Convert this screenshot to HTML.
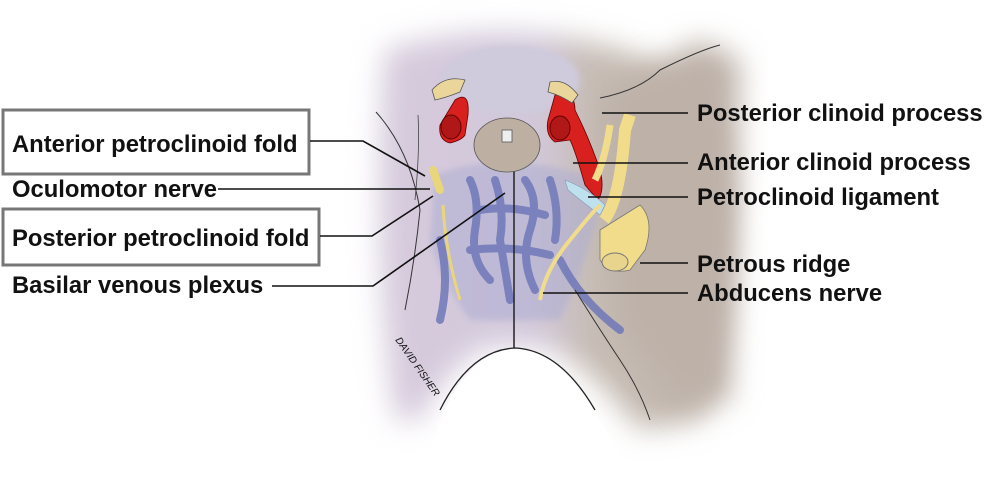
<!DOCTYPE html>
<html><head><meta charset="utf-8"><style>
html,body{margin:0;padding:0;background:#fff}
svg{display:block}
text{font-family:"Liberation Sans",Arial,sans-serif;font-weight:bold;font-size:23.8px;fill:#111}
</style></head><body>
<svg width="986" height="489" viewBox="0 0 986 489" xmlns="http://www.w3.org/2000/svg">
<defs>
<filter id="blur" x="-20%" y="-20%" width="140%" height="140%"><feGaussianBlur stdDeviation="14"/></filter>
<filter id="b2"><feGaussianBlur stdDeviation="3"/></filter>
<linearGradient id="lr" x1="0" x2="1" y1="0" y2="0">
<stop offset="0" stop-color="#d6cadc"/><stop offset="0.45" stop-color="#d2c8da"/><stop offset="0.6" stop-color="#c6bcb4"/><stop offset="1" stop-color="#bfb3aa"/>
</linearGradient>
</defs>
<path d="M385 50 Q520 10 650 60 Q720 80 730 200 Q730 330 700 420 L640 430 Q560 330 515 348 Q470 330 420 420 L395 420 Q370 250 385 50Z" fill="url(#lr)" filter="url(#blur)"/>
<path d="M600 100 Q650 70 700 40 L740 60 L730 400 L690 410 Q650 360 620 330Z" fill="#bdb1a8" filter="url(#blur)"/>
<ellipse cx="510" cy="80" rx="70" ry="35" fill="#cfcadc" filter="url(#b2)"/>
<path d="M435 175 Q500 150 585 175 L600 210 Q580 280 560 320 L470 320 Q440 280 430 240Z" fill="#aeaed2" opacity="0.55" filter="url(#b2)"/>
<g stroke="#6f78b8" stroke-width="8" fill="none" opacity="0.85" stroke-linecap="round">
<path d="M470 180 Q480 200 475 230 Q470 260 490 280"/>
<path d="M495 180 Q505 210 500 240 Q505 270 510 300"/>
<path d="M525 180 Q540 200 530 230 Q520 260 535 290"/>
<path d="M550 180 Q560 210 555 240"/>
<path d="M480 210 Q510 205 545 215"/>
<path d="M470 250 Q510 245 550 255"/>
<path d="M440 240 Q450 280 440 320"/>
<path d="M560 260 Q580 300 620 330"/>
</g>
<line x1="514" y1="170" x2="514" y2="348" stroke="#222" stroke-width="1.5"/>
<path d="M440 420 Q470 350 515 348 Q560 350 600 420 L640 489 L420 489Z" fill="#fff"/>
<path d="M440 410 Q470 350 515 348 Q560 350 595 410" fill="none" stroke="#222" stroke-width="1.3"/>
<path d="M600 98 Q640 90 660 70 Q700 50 720 45" fill="none" stroke="#333" stroke-width="1"/>
<path d="M575 290 Q600 330 620 360 Q640 390 650 420" fill="none" stroke="#333" stroke-width="1"/>
<path d="M376 112 Q410 150 420 210 Q415 260 405 310" fill="none" stroke="#333" stroke-width="1"/>
<path d="M418 115 Q420 150 415 200" fill="none" stroke="#444" stroke-width="0.8"/>
<ellipse cx="507" cy="145" rx="33" ry="27" fill="#bdb0a3" stroke="#555" stroke-width="0.8"/>
<rect x="502" y="130" width="10" height="12" fill="#eee" stroke="#555" stroke-width="0.8"/>
<path d="M455 100 Q470 90 468 115 L465 135 Q462 140 450 143 Q438 140 440 125Z" fill="#d8201f" stroke="#600" stroke-width="0.8"/>
<ellipse cx="451" cy="127" rx="10" ry="12" fill="#b01818" stroke="#600"/>
<path d="M555 95 Q575 90 575 110 Q590 140 600 170 Q605 190 598 200 L585 185 Q575 150 570 140 L555 142 Q545 135 548 120Z" fill="#d8201f" stroke="#600" stroke-width="0.8"/>
<ellipse cx="560" cy="128" rx="10" ry="12" fill="#b01818" stroke="#600"/>
<path d="M432 90 Q445 75 465 80 L460 92 Q445 98 435 100Z" fill="#ead69a" stroke="#555" stroke-width="0.8"/>
<path d="M550 82 Q565 78 578 95 L572 103 Q560 95 548 92Z" fill="#ead69a" stroke="#555" stroke-width="0.8"/>
<path d="M433 170 L440 190" stroke="#e9d67a" stroke-width="8" stroke-linecap="round"/>
<path d="M604 220 Q620 200 625 130 L630 115" stroke="#f1dc8c" stroke-width="12" fill="none"/>
<path d="M610 125 Q605 160 595 180" stroke="#f1dc8c" stroke-width="7" fill="none"/>
<path d="M600 230 L640 205 Q655 220 645 250 L630 270 Q610 275 600 260Z" fill="#f1dc8c" stroke="#777" stroke-width="0.8"/>
<ellipse cx="615" cy="262" rx="13" ry="9" fill="#e8d48c" stroke="#777"/>
<path d="M565 180 Q590 190 605 205 L600 215 Q580 200 568 190Z" fill="#bfe1ee" stroke="#89b" stroke-width="0.6"/>
<path d="M540 300 Q545 270 570 240 Q590 215 600 205" stroke="#f1dc8c" stroke-width="4" fill="none"/>
<path d="M443 205 Q445 250 460 300" stroke="#e9d67a" stroke-width="3" fill="none"/>
<rect x="3" y="110" width="306" height="64" fill="none" stroke="#777" stroke-width="3"/>
<rect x="3" y="209" width="316" height="56" fill="none" stroke="#777" stroke-width="3"/>
<text x="12" y="152">Anterior petroclinoid fold</text>
<text x="12" y="197">Oculomotor nerve</text>
<text x="12" y="246">Posterior petroclinoid fold</text>
<text x="12" y="293">Basilar venous plexus</text>
<g stroke="#111" stroke-width="1.6" fill="none">
<polyline points="310,141 363,141 425,176"/>
<polyline points="218,189 430,189"/>
<polyline points="320,236 372,236 433,196"/>
<polyline points="272,286 373,286 505,193"/>
<line x1="602" y1="113" x2="688" y2="113"/>
<line x1="573" y1="163" x2="688" y2="163"/>
<line x1="588" y1="197" x2="688" y2="197"/>
<line x1="640" y1="263" x2="688" y2="263"/>
<line x1="543" y1="293" x2="688" y2="293"/>
</g>
<text x="697" y="121">Posterior clinoid process</text>
<text x="697" y="170">Anterior clinoid process</text>
<text x="697" y="205">Petroclinoid ligament</text>
<text x="697" y="272">Petrous ridge</text>
<text x="697" y="301">Abducens nerve</text>
<text x="395" y="340" transform="rotate(55 395 340)" style="font-size:10px;font-weight:normal;font-style:italic">DAVID FISHER</text>
</svg>
</body></html>
